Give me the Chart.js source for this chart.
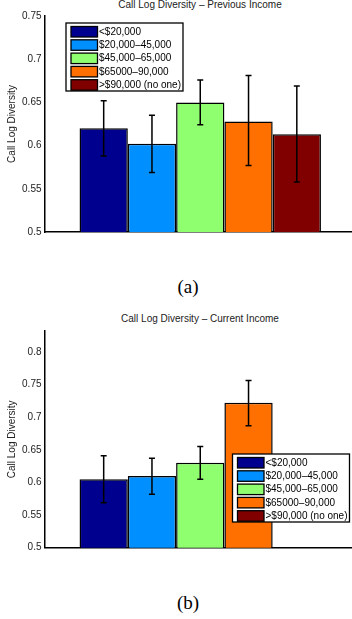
<!DOCTYPE html>
<html lang="en">
<head>
    <meta charset="UTF-8">
    <title>Call Log Diversity by Income</title>
    <script src="https://cdn.jsdelivr.net/npm/chart.js"></script>
    <style>
        html, body { margin: 0; padding: 0; background: #fff; overflow: hidden; width: 352px; height: 619px; }
        .wrap { position: relative; width: 352px; height: 619px; overflow: hidden; }
        canvas { position: absolute; left: 0; }
        .title { position: absolute; left: 100px; width: 200px; text-align: center; font: 10px "Liberation Sans", Arial, sans-serif; color: #222; white-space: nowrap; }
        .caption { position: absolute; left: 138px; width: 100px; text-align: center; font: 19px "Liberation Serif", "Times New Roman", serif; color: #000; }
    </style>
</head>
<body>
<div class="wrap">
    <div class="title" style="top:-1px">Call Log Diversity – Previous Income</div>
    <canvas id="prevChart" width="356" height="250" style="top:0"></canvas>
    <div class="caption" style="top:276px">(a)</div>

    <div class="title" style="top:313px">Call Log Diversity – Current Income</div>
    <canvas id="currChart" width="356" height="252" style="top:310px"></canvas>
    <div class="caption" style="top:592px">(b)</div>
</div>

<script>
    // income groups (legend labels) and bar colours
    const incomeGroups = ['<$20,000', '$20,000–45,000', '$45,000–65,000', '$65000–90,000', '>$90,000 (no one)'];
    const groupColors = ['#00008f', '#008fff', '#8fff70', '#ff7000', '#800000'];

    // (a) previous income: means and error bar ends
    const prevMeans = [0.620, 0.602, 0.650, 0.628, 0.613];
    const prevLow   = [0.588, 0.569, 0.624, 0.577, 0.558];
    const prevHigh  = [0.652, 0.635, 0.676, 0.681, 0.669];
    const prevTicks = [0.5, 0.55, 0.6, 0.65, 0.7, 0.75];

    // (b) current income (nobody above $90,000)
    const currMeans = [0.605, 0.610, 0.630, 0.722, null];
    const currLow   = [0.569, 0.582, 0.605, 0.687, null];
    const currHigh  = [0.641, 0.637, 0.655, 0.756, null];
    const currTicks = [0.5, 0.55, 0.6, 0.65, 0.7, 0.75, 0.8];

    const FONT = '"Liberation Sans", Arial, sans-serif';

    // draws the error bars on top of each bar
    const errorBars = {
        id: 'errorBars',
        afterDatasetsDraw(chart) {
            const ctx = chart.ctx;
            const y = chart.scales.y;
            ctx.save();
            ctx.strokeStyle = '#000';
            ctx.lineWidth = 1.5;
            chart.data.datasets.forEach((ds, i) => {
                const meta = chart.getDatasetMeta(i);
                meta.data.forEach((bar, j) => {
                    const lo = ds.errLow[j], hi = ds.errHigh[j];
                    if (lo == null || hi == null) return;
                    const x = bar.x;
                    const yl = y.getPixelForValue(lo), yh = y.getPixelForValue(hi);
                    ctx.beginPath();
                    ctx.moveTo(x, yl); ctx.lineTo(x, yh);
                    ctx.moveTo(x - 3, yl); ctx.lineTo(x + 3, yl);
                    ctx.moveTo(x - 3, yh); ctx.lineTo(x + 3, yh);
                    ctx.stroke();
                });
            });
            ctx.restore();
        }
    };

    // MATLAB style boxed legend inside the plot
    const boxLegend = {
        id: 'boxLegend',
        afterDraw(chart, args, opts) {
            const ctx = chart.ctx;
            const x = opts.x, y = opts.y;
            const w = 117, h = 68, pitch = 13.3;
            ctx.save();
            ctx.fillStyle = '#fff';
            ctx.fillRect(x, y, w, h);
            ctx.strokeStyle = '#000';
            ctx.lineWidth = 1.3;
            ctx.strokeRect(x, y, w, h);
            ctx.font = '10px ' + FONT;
            ctx.textBaseline = 'middle';
            chart.data.datasets.forEach((ds, i) => {
                const sy = y + 3.5 + i * pitch;
                ctx.fillStyle = ds.backgroundColor;
                ctx.fillRect(x + 5, sy, 26.5, 10.5);
                ctx.lineWidth = 1.3;
                ctx.strokeRect(x + 5, sy, 26.5, 10.5);
                ctx.fillStyle = '#000';
                ctx.fillText(ds.label, x + 33, sy + 5.6);
            });
            ctx.restore();
        }
    };

    function makeChart(id, means, low, high, ticks, yMax, padTop, padBottom, legendPos) {
        const datasets = incomeGroups.map((name, i) => ({
            label: name,
            data: [means[i]],
            errLow: [low[i]],
            errHigh: [high[i]],
            backgroundColor: groupColors[i],
            borderColor: '#000',
            borderWidth: 1.5,
            borderSkipped: 'bottom',
            categoryPercentage: 0.775,
            barPercentage: 1.0
        }));

        return new Chart(document.getElementById(id), {
            type: 'bar',
            data: { labels: [''], datasets: datasets },
            options: {
                responsive: false,
                animation: false,
                layout: { padding: { top: padTop, bottom: padBottom, left: 0, right: 0 } },
                plugins: {
                    legend: { display: false },
                    title: { display: false },
                    tooltip: { enabled: false },
                    boxLegend: legendPos
                },
                scales: {
                    x: {
                        ticks: { display: false },
                        grid: { display: false, drawTicks: false },
                        border: { display: true, color: '#000', width: 1.5 },
                        afterFit(scale) { scale.height = 0; }
                    },
                    y: {
                        min: 0.5,
                        max: yMax,
                        afterBuildTicks(scale) { scale.ticks = ticks.map(v => ({ value: v })); },
                        ticks: {
                            padding: 3,
                            color: '#222',
                            font: { family: FONT, size: 10 },
                            callback: v => String(v)
                        },
                        grid: { drawOnChartArea: false, drawTicks: false, color: 'rgba(0,0,0,0)' },
                        border: { display: true, color: '#000', width: 1.5 },
                        title: {
                            display: true,
                            text: 'Call Log Diversity',
                            color: '#222',
                            font: { family: FONT, size: 10 },
                            padding: { top: 6, bottom: 0 }
                        },
                        afterFit(scale) { scale.width = 44.5; }
                    }
                }
            },
            plugins: [errorBars, boxLegend]
        });
    }

    makeChart('prevChart', prevMeans, prevLow, prevHigh, prevTicks, 0.75, 16, 18, { x: 66, y: 23 });
    makeChart('currChart', currMeans, currLow, currHigh, currTicks, 0.832, 21, 14.3, { x: 232.5, y: 454 - 310 });
</script>
</body>
</html>
